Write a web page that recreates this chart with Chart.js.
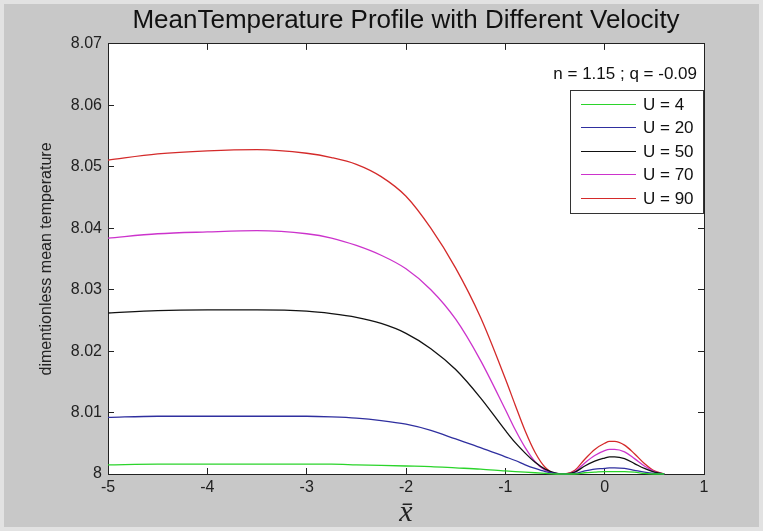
<!DOCTYPE html>
<html>
<head>
<meta charset="utf-8">
<script src="https://cdn.jsdelivr.net/npm/chart.js@4.4.0/dist/chart.umd.min.js"></script>
<style>
  body { margin: 0; background: #c8c8c8; }
  #wrap { position: relative; width: 763px; height: 531px; background: #c8c8c8; box-shadow: inset 0 0 0 4px #e2e2e2; }
  #wrap canvas { position: absolute; left: 0; top: 0; }
  #note { position: absolute; right: 66px; top: 64px; font: 17px "Liberation Sans", Arial, sans-serif; color: #111; white-space: nowrap; }
  #legend { position: absolute; left: 570px; top: 90px; width: 132px; height: 122px; background: #fff; border: 1px solid #333; font: 17px "Liberation Sans", Arial, sans-serif; color: #111; }
  .item { position: absolute; left: 0; width: 132px; height: 20px; }
  .item .ln { position: absolute; left: 10px; top: 9px; width: 55px; height: 1.4px; }
  .item .tx { position: absolute; left: 72px; top: 0; line-height: 20px; white-space: nowrap; }
</style>
</head>
<body>
<div id="wrap">
  <canvas id="chart" width="763" height="531"></canvas>
  <div id="note">n = 1.15 ; q = -0.09</div>
  <div id="legend"></div>
</div>
<script>
// x positions of the sampled profile
const xVals = [-5, -4.5, -4, -3.5, -3, -2.75, -2.5, -2.25, -2, -1.75, -1.5, -1.25, -1, -0.9, -0.8, -0.7, -0.6, -0.5, -0.4, -0.3, -0.2, -0.1, 0, 0.05, 0.1, 0.2, 0.3, 0.4, 0.5, 0.6]

const u4  = [8.0015, 8.0016, 8.0016, 8.0016, 8.0016, 8.0016, 8.0015, 8.0014, 8.0013, 8.0012, 8.0010, 8.0008, 8.0005, 8.0004, 8.0003, 8.0002, 8.0001, 8.0000, 8.0000, 8.0000, 8.0002, 8.0003, 8.0004, 8.0004, 8.0004, 8.0004, 8.0003, 8.0001, 8.0000, 8.0000]
const u20 = [8.0092, 8.0094, 8.0094, 8.0094, 8.0094, 8.0093, 8.0091, 8.0087, 8.0081, 8.0071, 8.0057, 8.0043, 8.0028, 8.0022, 8.0015, 8.0009, 8.0004, 8.0001, 8.0000, 8.0001, 8.0005, 8.0008, 8.0009, 8.0010, 8.0010, 8.0009, 8.0006, 8.0003, 8.0001, 8.0000]
const u50 = [8.0262, 8.0266, 8.0267, 8.0267, 8.0265, 8.0261, 8.0255, 8.0245, 8.0229, 8.0204, 8.0170, 8.0124, 8.0071, 8.0051, 8.0034, 8.0019, 8.0008, 8.0002, 8.0000, 8.0003, 8.0013, 8.0021, 8.0026, 8.0028, 8.0028, 8.0025, 8.0017, 8.0009, 8.0003, 8.0000]
const u70 = [8.0384, 8.0391, 8.0394, 8.0396, 8.0391, 8.0384, 8.0372, 8.0356, 8.0334, 8.0300, 8.0252, 8.0185, 8.0105, 8.0072, 8.0043, 8.0020, 8.0006, 8.0001, 8.0000, 8.0004, 8.0018, 8.0030, 8.0038, 8.0040, 8.0040, 8.0036, 8.0025, 8.0013, 8.0004, 8.0000]
const u90 = [8.0511, 8.0521, 8.0526, 8.0528, 8.0522, 8.0515, 8.0504, 8.0484, 8.0452, 8.0400, 8.0335, 8.0255, 8.0155, 8.0112, 8.0070, 8.0035, 8.0011, 8.0001, 8.0000, 8.0006, 8.0024, 8.0040, 8.0050, 8.0053, 8.0053, 8.0047, 8.0033, 8.0017, 8.0005, 8.0000]

const seriesLabels = ['U = 4', 'U = 20', 'U = 50', 'U = 70', 'U = 90']
const seriesColors = ['#2bd42b', '#2f2f9f', '#111111', '#cc33cc', '#d42a2a']
const seriesValues = [u4, u20, u50, u70, u90]

const xTicks = [-5, -4, -3, -2, -1, 0, 1]
const yTicks = [8, 8.01, 8.02, 8.03, 8.04, 8.05, 8.06, 8.07]

const sans = '"Liberation Sans", Arial, sans-serif'

const datasets = seriesValues.map(function (vals, i) {
  return {
    label: seriesLabels[i],
    data: vals.map(function (v, j) { return { x: xVals[j], y: v } }),
    borderColor: seriesColors[i],
    backgroundColor: seriesColors[i],
    borderWidth: 1.3,
    pointRadius: 0,
    showLine: true,
    cubicInterpolationMode: 'monotone',
    clip: false
  }
})

// html legend built from the series arrays
const legendBox = document.getElementById('legend')
seriesLabels.forEach(function (lab, i) {
  const it = document.createElement('div')
  it.className = 'item'
  it.style.top = (3.5 + i * 23.5) + 'px'
  it.innerHTML = '<div class="ln" style="background:' + seriesColors[i] + '"></div><div class="tx">' + lab + '</div>'
  legendBox.appendChild(it)
})

const whiteArea = {
  id: 'whiteArea',
  beforeDraw(chart) {
    const a = chart.chartArea
    chart.ctx.save()
    chart.ctx.fillStyle = '#ffffff'
    chart.ctx.fillRect(a.left, a.top, a.right - a.left, a.bottom - a.top)
    chart.ctx.restore()
  }
}

function fmt(v) { return String(Number(v.toFixed(2))) }

const axisGrid = { drawOnChartArea: false, drawTicks: true, tickLength: -6, color: '#222', lineWidth: 1 }
const axisBorder = { display: true, color: '#222', width: 1 }

const config = {
  type: 'scatter',
  data: { datasets: datasets },
  options: {
    responsive: false,
    devicePixelRatio: 1,
    animation: false,
    layout: { padding: { left: 0, right: 59, top: 0, bottom: 0 } },
    plugins: {
      legend: { display: false },
      tooltip: { enabled: false },
      title: {
        display: true,
        fullSize: false,
        text: 'MeanTemperature Profile with Different Velocity',
        color: '#111',
        font: { family: sans, size: 26, weight: 'normal', lineHeight: 1.15 },
        padding: { top: 6, bottom: 8 }
      }
    },
    scales: {
      x: {
        type: 'linear', position: 'bottom', min: -5, max: 1,
        afterBuildTicks: function (s) { s.ticks = xTicks.map(function (v) { return { value: v } }) },
        afterFit: function (s) { s.height = 57 },
        grid: axisGrid, border: axisBorder,
        ticks: { color: '#222', padding: 10, font: { family: sans, size: 16 }, callback: fmt },
        title: {
          display: true, text: 'x\u0304', color: '#222',
          font: { family: '"Liberation Serif", "DejaVu Serif", serif', size: 30, style: 'italic', lineHeight: 1 },
          padding: { top: 0, bottom: 3 }
        }
      },
      y: {
        type: 'linear', position: 'left', min: 8, max: 8.07,
        afterBuildTicks: function (s) { s.ticks = yTicks.map(function (v) { return { value: v } }) },
        afterFit: function (s) { s.width = 108 },
        grid: axisGrid, border: axisBorder,
        ticks: { color: '#222', padding: 12, font: { family: sans, size: 16 }, callback: fmt },
        title: {
          display: true, text: 'dimentionless mean temperature', color: '#222',
          font: { family: sans, size: 16 },
          padding: { top: 37, bottom: 0 }
        }
      },
      x2: {
        type: 'linear', position: 'top', min: -5, max: 1,
        afterBuildTicks: function (s) { s.ticks = xTicks.map(function (v) { return { value: v } }) },
        afterFit: function (s) { s.height = 0 },
        grid: axisGrid, border: axisBorder,
        ticks: { display: false }
      },
      y2: {
        type: 'linear', position: 'right', min: 8, max: 8.07,
        afterBuildTicks: function (s) { s.ticks = yTicks.map(function (v) { return { value: v } }) },
        afterFit: function (s) { s.width = 0 },
        grid: axisGrid, border: axisBorder,
        ticks: { display: false }
      }
    }
  },
  plugins: [whiteArea]
}

const profileChart = new Chart(document.getElementById('chart'), config)
</script>
</body>
</html>
